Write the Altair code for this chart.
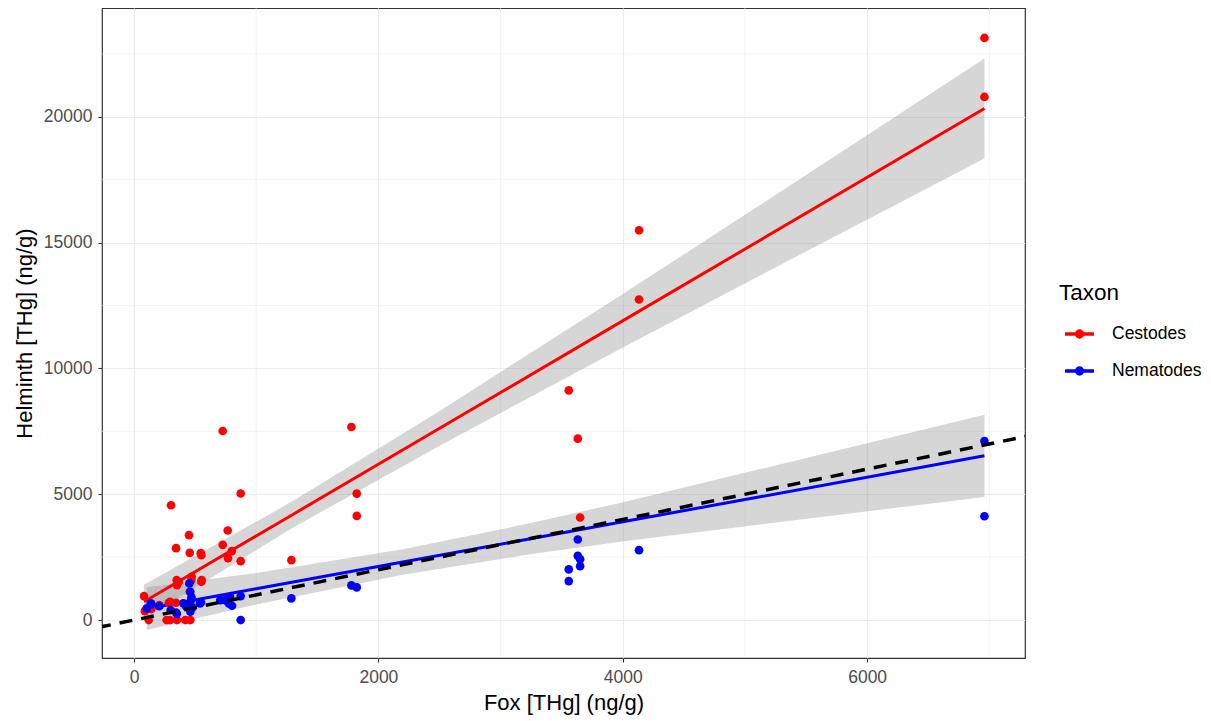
import altair as alt
import pandas as pd

# ---- data ----
ces_fox = [82, 120, 142, 88, 207, 284, 295, 344, 352, 420, 461, 456, 366, 352, 469, 551, 546, 551,
           303, 450, 344, 456, 726, 767, 726, 800, 769, 873, 873, 1288, 1779, 1823, 1823, 3558,
           3632, 3651, 4133, 4133, 6960, 6960, 295, 267, 349, 472, 554]
ces_hel = [952, 0, 437, 357, 595, 687, 0, 687, 0, 0, 0, 1123, 1520, 1389, 1587, 1520, 2659, 2580,
           4563, 3373, 2857, 2671, 7512, 3560, 2988, 2738, 2460, 2341, 5028, 2381, 7671, 5027, 4140, 9127,
           7210, 4075, 15490, 12740, 23135, 20790, 726, 0, 1587, 1720, 1587]

nem_fox = [6960, 6960, 4133, 3632, 3632, 3651, 3651, 3558, 3558, 1288, 1779, 1823, 873, 873, 747,
           775, 802, 706, 548, 453, 461, 461, 428, 461, 404, 137, 104, 786, 540, 142, 300, 350,
           470, 480, 207, 344]
nem_hel = [7115, 4127, 2778, 3202, 2552, 2421, 2143, 2012, 1548, 861, 1377, 1298, 0, 952, 794,
           663, 568, 794, 702, 1456, 1123, 726, 528, 329, 663, 663, 464, 925, 663, 635, 400, 250,
           900, 500, 550, 300]

# fitted lines and confidence bands (read at sample positions)
ces_band_x = [82, 1300, 2505, 3978, 5124, 6960]
ces_fit = [726, 4198, 7632, 11831, 15097, 20330]
ces_lo = [46, 3668, 6942, 10776, 13697, 18340]
ces_hi = [1406, 4728, 8322, 12886, 16497, 22320]

nem_band_x = [104, 1000, 2200, 3200, 3978, 5124, 6960]
nem_fit = [452, 1246, 2309, 3195, 3885, 4900, 6527]
nem_lo = [-398, 621, 1804, 2585, 3115, 3800, 4892]
nem_hi = [1302, 1871, 2814, 3805, 4655, 6000, 8162]

# 1:1 reference line
ref_x = [-1000, 8000]
ref_y = [-1000, 8000]

x_ticks = [0, 2000, 4000, 6000]
y_ticks = [0, 5000, 10000, 15000, 20000]
x_minor = [1000, 3000, 5000, 7000]
y_minor = [2500, 7500, 12500, 17500, 22500]

taxa = ["Cestodes", "Nematodes"]
colors = ["#FF0000", "#0000FF"]

# ---- tables ----
pts = pd.concat([
    pd.DataFrame({"fox": ces_fox, "hel": ces_hel, "Taxon": "Cestodes"}),
    pd.DataFrame({"fox": nem_fox, "hel": nem_hel, "Taxon": "Nematodes"}),
], ignore_index=True)

band = pd.concat([
    pd.DataFrame({"fox": ces_band_x, "fit": ces_fit, "lo": ces_lo, "hi": ces_hi, "Taxon": "Cestodes"}),
    pd.DataFrame({"fox": nem_band_x, "fit": nem_fit, "lo": nem_lo, "hi": nem_hi, "Taxon": "Nematodes"}),
], ignore_index=True)

ref = pd.DataFrame({"fox": ref_x, "hel": ref_y})
vgrid = pd.DataFrame({"v": x_minor})
hgrid = pd.DataFrame({"v": y_minor})

xscale = alt.Scale(domain=[-262, 7292], nice=False, zero=False)
yscale = alt.Scale(domain=[-1508, 24325], nice=False, zero=False)
cscale = alt.Scale(domain=taxa, range=colors)

xaxis = alt.Axis(values=x_ticks, format="d", title="Fox [THg] (ng/g)")
yaxis = alt.Axis(values=y_ticks, format="d", title="Helminth [THg] (ng/g)")

X = alt.X("fox:Q", scale=xscale, axis=xaxis)

minor_v = alt.Chart(vgrid).mark_rule(color="#EBEBEB", strokeWidth=0.6).encode(
    x=alt.X("v:Q", scale=xscale, axis=xaxis))
minor_h = alt.Chart(hgrid).mark_rule(color="#EBEBEB", strokeWidth=0.6).encode(
    y=alt.Y("v:Q", scale=yscale, axis=yaxis))

bands = alt.Chart(band).mark_area(color="#999999", opacity=0.4, clip=True).encode(
    x=X,
    y=alt.Y("lo:Q", scale=yscale, axis=yaxis),
    y2="hi:Q",
    detail="Taxon:N",
)

legend = alt.Legend(
    title="Taxon",
    orient="none",
    legendX=957,
    legendY=274,
    symbolType="M-1,0L1,0M-0.2,0A0.2,0.2,0,1,1,0.2,0A0.2,0.2,0,1,1,-0.2,0Z",
    symbolSize=841,
    symbolStrokeWidth=3.5,
    symbolOpacity=1,
    symbolOffset=4,
    titleFontSize=22.5,
    titleFontWeight="normal",
    titleColor="#000000",
    titlePadding=13,
    labelFontSize=17.5,
    labelColor="#000000",
    labelOffset=16,
    rowPadding=10,
)

fits = alt.Chart(band).mark_line(strokeWidth=3, clip=True).encode(
    x=X,
    y=alt.Y("fit:Q", scale=yscale, axis=yaxis),
    color=alt.Color("Taxon:N", scale=cscale, legend=legend),
)

points = alt.Chart(pts).mark_circle(size=75, opacity=1).encode(
    x=X,
    y=alt.Y("hel:Q", scale=yscale, axis=yaxis),
    color=alt.Color("Taxon:N", scale=cscale, legend=legend),
)

refline = alt.Chart(ref).mark_line(color="#000000", strokeWidth=3.5, strokeDash=[13, 9], clip=True).encode(
    x=X,
    y=alt.Y("hel:Q", scale=yscale, axis=yaxis),
)

chart = alt.layer(minor_v, minor_h, bands, fits, points, refline).properties(
    width=923,
    height=650,
    background="white",
    autosize=alt.AutoSizeParams(type="none"),
    padding={"left": 94, "top": 0, "right": 178, "bottom": 62},
).configure_view(
    stroke="#333333", strokeWidth=1.2
).configure_axis(
    grid=True,
    gridColor="#EBEBEB",
    gridWidth=1.2,
    domain=False,
    tickColor="#333333",
    tickSize=4,
    tickWidth=1.1,
    labelFont="Liberation Sans",
    labelFontSize=17.5,
    labelColor="#4D4D4D",
    titleFont="Liberation Sans",
    titleFontSize=22,
    titleFontWeight="normal",
    titleColor="#000000",
).configure_axisX(
    labelPadding=6,
    titlePadding=7,
).configure_axisY(
    labelPadding=6,
    titlePadding=7,
).configure_legend(
    labelFont="Liberation Sans",
    titleFont="Liberation Sans",
)

chart.save("out.html", embed_options={"renderer": "svg", "actions": False})
